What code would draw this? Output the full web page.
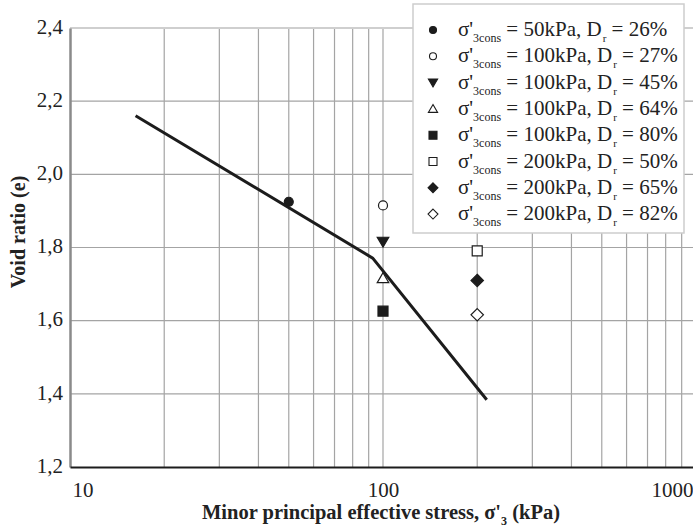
<!DOCTYPE html>
<html>
<head>
<meta charset="utf-8">
<script src="https://cdn.jsdelivr.net/npm/d3@7"></script>
<style>
  body { margin: 0; background: #fff; }
</style>
</head>
<body>
<div id="chart"></div>
<script>
// test series
var stress = [50, 100, 100, 100, 100, 200, 200, 200]
var confining = [50, 100, 100, 100, 100, 200, 200, 200]
var relDensity = [26, 27, 45, 64, 80, 50, 65, 82]
var voidRatio = [1.925, 1.915, 1.816, 1.716, 1.626, 1.791, 1.71, 1.616]
var shapes = ['circle', 'circle', 'triDown', 'triUp', 'square', 'square', 'diamond', 'diamond']
var filled = [true, false, true, false, true, false, true, false]

// fitted line
var lineStress = [16.2, 92.7, 214.5]
var lineVoid = [2.16, 1.771, 1.384]

var xTicks = [10, 100, 1000]
var yTicks = [1.2, 1.4, 1.6, 1.8, 2.0, 2.2, 2.4]

var FONT = '"Liberation Serif", "Times New Roman", serif'
var width = 693
var height = 532
var margin = { top: 28, left: 70, right: -3, bottom: 65 }

var svg = d3
  .select('#chart')
  .append('svg')
  .attr('width', width)
  .attr('height', height)
  .style('font-family', FONT)

var xPositionScale = d3
  .scaleLog()
  .domain([10, 1000])
  .range([margin.left, width - margin.right])

var yPositionScale = d3
  .scaleLinear()
  .domain([1.2, 2.4])
  .range([height - margin.bottom, margin.top])

var locale = d3.formatLocale({ decimal: ',', thousands: '.', grouping: [3], currency: ['', ''] })

// marker paths, centred on 0,0
function markerPath(shape, s) {
  if (shape === 'circle') return d3.symbol(d3.symbolCircle, Math.PI * s * s / 4)()
  if (shape === 'square') return `M${-s / 2},${-s / 2}h${s}v${s}h${-s}Z`
  if (shape === 'diamond') {
    var h = s * 0.62
    return `M0,${-h}L${h},0L0,${h}L${-h},0Z`
  }
  var t = s * 0.55
  if (shape === 'triUp') return `M0,${-t}L${t * 1.05},${t * 0.8}L${-t * 1.05},${t * 0.8}Z`
  return `M0,${t}L${t * 1.05},${-t * 0.8}L${-t * 1.05},${-t * 0.8}Z`
}

/* grid */
var minor = []
;[10, 100].forEach(function(dec) {
  for (var k = 2; k <= 10; k++) minor.push(dec * k)
})
svg
  .append('g')
  .selectAll('line')
  .data(minor.filter(d => d < 1000))
  .enter()
  .append('line')
  .attr('x1', d => xPositionScale(d))
  .attr('x2', d => xPositionScale(d))
  .attr('y1', margin.top)
  .attr('y2', height - margin.bottom)
  .attr('stroke', '#a4a4a4')
  .attr('stroke-width', 1.2)

svg
  .append('g')
  .selectAll('line')
  .data(yTicks.slice(1, -1))
  .enter()
  .append('line')
  .attr('x1', margin.left)
  .attr('x2', width)
  .attr('y1', d => yPositionScale(d))
  .attr('y2', d => yPositionScale(d))
  .attr('stroke', '#a4a4a4')
  .attr('stroke-width', 1.2)

svg
  .append('line')
  .attr('x1', margin.left)
  .attr('x2', width)
  .attr('y1', yPositionScale(2.4))
  .attr('y2', yPositionScale(2.4))
  .attr('stroke', '#cfcfcf')
  .attr('stroke-width', 2)

/* fitted line */
var line = d3
  .line()
  .x(d => xPositionScale(d[0]))
  .y(d => yPositionScale(d[1]))

svg
  .append('path')
  .datum(d3.zip(lineStress, lineVoid))
  .attr('d', line)
  .attr('fill', 'none')
  .attr('stroke', '#1c1c1c')
  .attr('stroke-width', 3)

/* points */
svg
  .append('g')
  .selectAll('path')
  .data(d3.range(stress.length))
  .enter()
  .append('path')
  .attr('transform', i => `translate(${xPositionScale(stress[i])},${yPositionScale(voidRatio[i])})`)
  .attr('d', i => markerPath(shapes[i], shapes[i] === 'circle' ? 9 : 10))
  .attr('fill', i => (filled[i] ? '#1c1c1c' : '#fff'))
  .attr('stroke', '#1c1c1c')
  .attr('stroke-width', 1.2)

/* axes */
var yAxis = d3
  .axisLeft(yPositionScale)
  .tickValues(yTicks)
  .tickSize(0)
  .tickPadding(7)
  .tickFormat(locale.format('.1f'))
var yg = svg
  .append('g')
  .attr('class', 'axis y-axis')
  .attr('transform', `translate(${margin.left},0)`)
  .call(yAxis)
yg.select('.domain').attr('stroke', '#8a8a8a').attr('stroke-width', 2.5)
yg.selectAll('text').attr('dy', '0.25em').style('font-family', FONT).style('font-size', '21px').attr('fill', '#222')

var xAxis = d3
  .axisBottom(xPositionScale)
  .tickValues(xTicks)
  .tickSize(0)
  .tickPadding(15)
  .tickFormat(d3.format('d'))
var xg = svg
  .append('g')
  .attr('class', 'axis x-axis')
  .attr('transform', `translate(0,${height - margin.bottom})`)
  .call(xAxis)
xg.select('.domain').attr('stroke', '#1c1c1c').attr('stroke-width', 2.2)
xg.selectAll('text')
  .style('font-family', FONT)
  .style('font-size', '21px')
  .attr('fill', '#222')
  .attr('text-anchor', d => (d === 10 ? 'start' : d === 1000 ? 'end' : 'middle'))
  .attr('dx', d => (d === 10 ? 2 : d === 1000 ? -3 : 0))

/* axis titles */
svg
  .append('text')
  .attr('transform', 'translate(25,232) rotate(-90)')
  .attr('text-anchor', 'middle')
  .style('font-family', FONT)
  .style('font-size', '20px')
  .style('font-weight', 'bold')
  .attr('fill', '#222')
  .text('Void ratio (e)')

var xTitle = svg
  .append('text')
  .attr('x', 381)
  .attr('y', 519)
  .attr('text-anchor', 'middle')
  .style('font-family', FONT)
  .style('font-size', '20.5px')
  .style('font-weight', 'bold')
  .attr('fill', '#222')
xTitle.append('tspan').text("Minor principal effective stress, σ'")
xTitle.append('tspan').attr('dy', 6).style('font-size', '12px').text('3')
xTitle.append('tspan').attr('dy', -6).text(' (kPa)')

/* legend */
var legend = svg.append('g').attr('transform', 'translate(413,4)')
legend
  .append('rect')
  .attr('width', 271)
  .attr('height', 229)
  .attr('fill', '#fff')
  .attr('stroke', '#cdcdcd')
  .attr('stroke-width', 1.5)

var rows = legend
  .selectAll('.row')
  .data(d3.range(stress.length))
  .enter()
  .append('g')
  .attr('class', 'row')
  .attr('transform', i => `translate(0,${26 + i * 26.3})`)

rows
  .append('path')
  .attr('transform', 'translate(20,0)')
  .attr('d', i => markerPath(shapes[i], shapes[i] === 'circle' ? 7 : 8))
  .attr('fill', i => (filled[i] ? '#1c1c1c' : '#fff'))
  .attr('stroke', '#1c1c1c')
  .attr('stroke-width', 1.1)

rows.each(function(i) {
  var t = d3
    .select(this)
    .append('text')
    .attr('x', 45)
    .attr('y', 6)
    .attr('fill', '#222')
    .style('font-family', FONT)
    .style('font-size', '21px')
    .style('white-space', 'pre')
  t.append('tspan').text("σ'")
  t.append('tspan').attr('dy', 6).style('font-size', '12px').text('3cons')
  t.append('tspan').attr('dy', -6).text(` = ${confining[i]}kPa, D`)
  t.append('tspan').attr('dy', 6).attr('dx', 1).style('font-size', '11px').text('r')
  t.append('tspan').attr('dy', -6).text(` = ${relDensity[i]}%`)
})
</script>
</body>
</html>
